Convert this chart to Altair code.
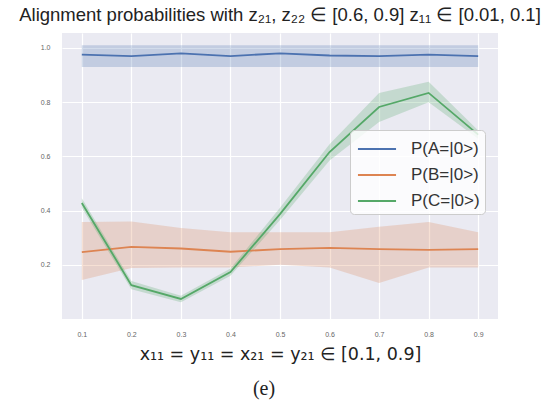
import altair as alt
import pandas as pd

# ---- data ----
x_vals = [0.1, 0.2, 0.3, 0.4, 0.5, 0.6, 0.7, 0.8, 0.9]
series_names = ["P(A=|0>)", "P(B=|0>)", "P(C=|0>)"]

a_mean = [0.975, 0.970, 0.980, 0.970, 0.980, 0.972, 0.970, 0.975, 0.970]
a_lo = [0.930, 0.930, 0.930, 0.930, 0.930, 0.930, 0.930, 0.930, 0.930]
a_hi = [1.010, 1.010, 1.010, 1.010, 1.010, 1.010, 1.010, 1.010, 1.010]

b_mean = [0.247, 0.266, 0.260, 0.248, 0.258, 0.262, 0.258, 0.255, 0.258]
b_lo = [0.144, 0.188, 0.190, 0.190, 0.200, 0.190, 0.133, 0.190, 0.190]
b_hi = [0.358, 0.360, 0.336, 0.320, 0.320, 0.320, 0.340, 0.358, 0.320]

c_mean = [0.428, 0.125, 0.074, 0.173, 0.387, 0.616, 0.782, 0.834, 0.680]
c_lo = [0.410, 0.110, 0.062, 0.160, 0.365, 0.585, 0.727, 0.800, 0.665]
c_hi = [0.445, 0.140, 0.086, 0.186, 0.410, 0.645, 0.834, 0.875, 0.695]

colors = ["#4C72B0", "#DD8452", "#55A868"]

title_text = "Alignment probabilities with z\u2082\u2081, z\u2082\u2082 \u2208 [0.6, 0.9] z\u2081\u2081 \u2208 [0.01, 0.1]"
x_title = "x\u2081\u2081 = y\u2081\u2081 = x\u2082\u2081 = y\u2082\u2081 \u2208 [0.1, 0.9]"
caption = "(e)"
x_ticks = [0.1, 0.2, 0.3, 0.4, 0.5, 0.6, 0.7, 0.8, 0.9]
y_ticks = [0.2, 0.4, 0.6, 0.8, 1.0]

rows = []
for name, m, lo, hi in zip(series_names, [a_mean, b_mean, c_mean], [a_lo, b_lo, c_lo], [a_hi, b_hi, c_hi]):
    for xv, mv, lv, hv in zip(x_vals, m, lo, hi):
        rows.append({"x": xv, "series": name, "mean": mv, "lo": lv, "hi": hv})
df = pd.DataFrame(rows)

xscale = alt.Scale(domain=[0.06, 0.94], nice=False, zero=False)
yscale = alt.Scale(domain=[0.0, 1.055], nice=False, zero=False)

xaxis = alt.Axis(values=x_ticks, format=".1f", title=x_title, labelFontSize=7,
                 labelColor="#666666", labelPadding=11, titleFontSize=17.5,
                 titleFontWeight="normal", titleColor="#222222", titlePadding=8,
                 titleFont="DejaVu Sans", ticks=False, domain=False, grid=True,
                 gridColor="white", gridWidth=1.2)
yaxis = alt.Axis(values=y_ticks, format=".1f", title=None, labelFontSize=7,
                 labelColor="#666666", labelPadding=12, ticks=False, domain=False,
                 grid=True, gridColor="white", gridWidth=1.2)

# fill scale gets its domain from the data (same order), so its hidden legend
# is not merged with the visible colour legend
band = alt.Chart(df).mark_area(opacity=0.25).encode(
    x=alt.X("x:Q", scale=xscale, axis=xaxis),
    y=alt.Y("lo:Q", scale=yscale, axis=yaxis),
    y2="hi:Q",
    fill=alt.Fill("series:N", scale=alt.Scale(range=colors), legend=None),
)

line = alt.Chart(df).mark_line(strokeWidth=1.8).encode(
    x=alt.X("x:Q", scale=xscale),
    y=alt.Y("mean:Q", scale=yscale),
    color=alt.Color(
        "series:N",
        scale=alt.Scale(domain=series_names, range=colors),
        legend=alt.Legend(
            title=None, orient="none", legendX=288, legendY=97,
            symbolType="M-0.85,0H2.08", symbolSize=676, symbolStrokeWidth=2,
            labelFontSize=17, labelFont="Liberation Sans", labelColor="#333333",
            labelOffset=28, rowPadding=4, padding=5,
            fillColor="rgba(255,255,255,0.8)", strokeColor="#cccccc", cornerRadius=4,
        ),
    ),
)

cap = alt.Chart(alt.Data(values=[{"t": caption}])).mark_text(
    font="Liberation Serif", fontSize=20, color="#222222", align="center", baseline="middle"
).encode(text="t:N", x=alt.value(202), y=alt.value(356))

chart = alt.layer(band, line, cap).properties(
    width=436, height=286,
    title=alt.TitleParams(title_text, fontSize=18.5, font="Liberation Sans", fontWeight="normal",
                          color="#222222", offset=9, anchor="middle"),
    autosize=alt.AutoSizeParams(type="none"),
    padding={"left": 62, "top": 33, "right": 55, "bottom": 92},
).configure(background="white").configure_view(fill="#EAEAF2", stroke=None)

chart.save("out.html", embed_options={"renderer": "svg", "actions": False})
